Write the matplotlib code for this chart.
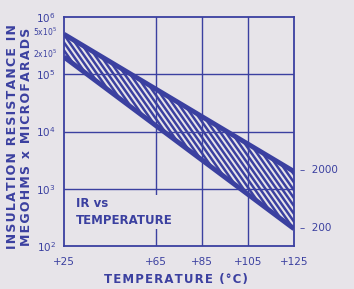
import matplotlib
matplotlib.use("Agg")
import matplotlib.pyplot as plt
import matplotlib.transforms as mtransforms
from matplotlib.collections import LineCollection
import numpy as np

# Data
temps = [25, 125]
upper_ir = [5e5, 2000]
lower_ir = [2e5, 200]
x_ticks = [25, 65, 85, 105, 125]
x_ticklabels = ["+25", "+65", "+85", "+105", "+125"]
y_ticks = [1e2, 1e3, 1e4, 1e5, 1e6]
y_ticklabels = ["$10^{2}$", "$10^{3}$", "$10^{4}$", "$10^{5}$", "$10^{6}$"]
extra_left_vals = [5e5, 2e5]
extra_left_labels = ["5x10$^{5}$", "2x10$^{5}$"]
right_vals = [2000, 200]
right_labels = ["2000", "200"]

BG = "#e7e4e9"
BLUE = "#3b40a0"

plt.rcParams['font.family'] = ['DejaVu Sans']

def spaced(s):
    return "\u200a".join(s)

fig = plt.figure(figsize=(3.54, 2.89), dpi=100, facecolor=BG)
ax = fig.add_axes([64/354, 1-246/289, 230/354, 229/289])
ax.set_facecolor(BG)
ax.set_yscale('log')
ax.set_xlim(25, 125)
ax.set_ylim(1e2, 1e6)

# grid
for x in x_ticks[1:-1]:
    ax.axvline(x, color=BLUE, lw=1.0, zorder=1)
for y in y_ticks[1:-1]:
    ax.axhline(y, color=BLUE, lw=1.0, zorder=1)

# band (polygon + hatching clipped to it)
poly_x = list(temps) + list(temps[::-1])
poly_y = list(upper_ir) + list(lower_ir[::-1])
band = ax.fill(poly_x, poly_y, facecolor='none', edgecolor='none',
               linewidth=0, zorder=2)[0]

ax_w_px, ax_h_px = 230.0, 229.0
period = 5.5 / ax_w_px
run = (ax_h_px / np.tan(np.radians(55))) / ax_w_px
segs = [[(x0, 1.0), (x0 + run, 0.0)] for x0 in np.arange(-run - 0.05, 1.05, period)]
hatch = LineCollection(segs, colors=BLUE, linewidths=1.8, transform=ax.transAxes,
                       zorder=2.5)
ax.add_collection(hatch, autolim=False)
hatch.set_clip_path(band)

ax.plot(temps, upper_ir, color=BLUE, lw=3.5, zorder=3, solid_capstyle='butt')
ax.plot(temps, lower_ir, color=BLUE, lw=3.5, zorder=3, solid_capstyle='butt')

for s in ax.spines.values():
    s.set_color(BLUE)
    s.set_linewidth(1.3)
    s.set_zorder(4)

ax.set_xticks(x_ticks)
ax.set_xticklabels(x_ticklabels)
ax.set_yticks(y_ticks)
ax.set_yticklabels(y_ticklabels)
ax.minorticks_off()
ax.tick_params(axis='both', length=0, colors=BLUE, labelsize=7.5)
ax.tick_params(axis='x', pad=8)
ax.tick_params(axis='y', pad=6)

blend = mtransforms.blended_transform_factory(ax.transAxes, ax.transData)
for v, lab in zip(extra_left_vals, extra_left_labels):
    ax.text(-0.03, v * 1.12, lab, transform=blend, ha='right', va='center',
            fontsize=5.5, color=BLUE)
for v, lab in zip(right_vals, right_labels):
    ax.text(1.025, v * 1.05, "–  " + lab, transform=blend, ha='left', va='center',
            fontsize=7.5, color=BLUE)

ax.text(0.05, 0.15, "IR vs\nTEMPERATURE", transform=ax.transAxes, ha='left',
        va='center', fontsize=8.5, fontweight='bold', color=BLUE, linespacing=1.4,
        zorder=5, bbox=dict(facecolor=BG, edgecolor='none', pad=1.5))

fig.text(176/354, 1-280/289, spaced("TEMPERATURE (°C)"), ha='center', va='center',
         fontsize=8.5, fontweight='bold', color=BLUE)
fig.text(13/354, 1-137/289, spaced("INSULATION RESISTANCE IN"), rotation=90,
         ha='center', va='center', fontsize=9, fontweight='bold', color=BLUE)
fig.text(27/354, 1-137/289, spaced("MEGOHMS x MICROFARADS"), rotation=90,
         ha='center', va='center', fontsize=9, fontweight='bold', color=BLUE)

fig.savefig("out.png", dpi=100, facecolor=BG)
